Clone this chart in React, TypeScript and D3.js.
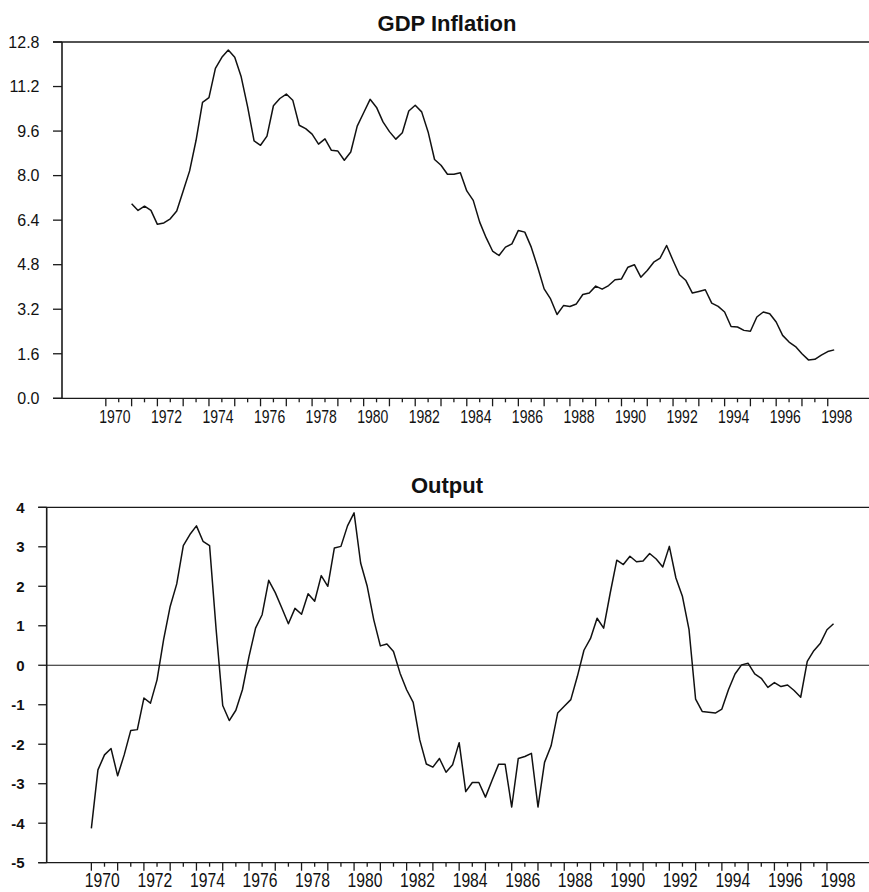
import * as d3 from "d3";

// quarterly series
const INFLATION_START = 1971; // 1971Q1
const inflation = [
  6.99, 6.75, 6.9, 6.75,
  6.25, 6.3, 6.45, 6.73,
  7.45, 8.17, 9.27, 10.63,
  10.8, 11.85, 12.25, 12.51,
  12.25, 11.55, 10.47, 9.25,
  9.09, 9.42, 10.51, 10.77,
  10.93, 10.71, 9.81, 9.69,
  9.49, 9.13, 9.32, 8.91,
  8.88, 8.55, 8.85, 9.78,
  10.26, 10.74, 10.45, 9.93,
  9.58, 9.31, 9.54, 10.32,
  10.53, 10.29, 9.57, 8.58,
  8.37, 8.05, 8.05, 8.1,
  7.45, 7.11, 6.33, 5.77,
  5.29, 5.13, 5.43, 5.55,
  6.03, 5.97, 5.43, 4.71,
  3.93, 3.57, 3.01, 3.33,
  3.3, 3.39, 3.73, 3.78,
  4.03, 3.92, 4.05, 4.26,
  4.29, 4.71, 4.8, 4.35,
  4.59, 4.89, 5.04, 5.49,
  4.95, 4.44, 4.23, 3.78,
  3.84, 3.9, 3.42, 3.3,
  3.1, 2.58, 2.56, 2.44,
  2.41, 2.92, 3.1, 3.04,
  2.74, 2.26, 2.02, 1.86,
  1.6, 1.38, 1.4, 1.55,
  1.68, 1.74,
];

const OUTPUT_START = 1970; // 1970Q1
const output = [
  -4.13, -2.65, -2.27, -2.11,
  -2.8, -2.27, -1.65, -1.63,
  -0.83, -0.96, -0.37, 0.65,
  1.49, 2.06, 3.03, 3.31,
  3.53, 3.14, 3.03, 0.9,
  -1.02, -1.4, -1.14, -0.62,
  0.22, 0.94, 1.28, 2.15,
  1.84, 1.45, 1.05, 1.44,
  1.29, 1.81, 1.62, 2.27,
  2.0, 2.97, 3.01, 3.53,
  3.86, 2.59, 2.0, 1.15,
  0.49, 0.54, 0.35, -0.2,
  -0.62, -0.94, -1.89, -2.5,
  -2.58, -2.36, -2.71, -2.52,
  -1.96, -3.2, -2.97, -2.97,
  -3.34, -2.92, -2.51, -2.51,
  -3.59, -2.36, -2.31, -2.23,
  -3.59, -2.46, -2.04, -1.21,
  -1.04, -0.87, -0.28, 0.38,
  0.68, 1.19, 0.94, 1.83,
  2.66, 2.55, 2.76, 2.62,
  2.64, 2.83, 2.69, 2.49,
  3.01, 2.21, 1.74, 0.9,
  -0.86, -1.17, -1.19, -1.21,
  -1.11, -0.62, -0.22, 0.01,
  0.05, -0.22, -0.33, -0.56,
  -0.44, -0.54, -0.5, -0.64,
  -0.81, 0.1, 0.37, 0.56,
  0.9, 1.05,
];

const inflationTicks = [0, 1.6, 3.2, 4.8, 6.4, 8.0, 9.6, 11.2, 12.8];
const outputTicks = [-5, -4, -3, -2, -1, 0, 1, 2, 3, 4];
const yearLabels = d3.range(1970, 1999, 2);
const yearTicks = d3.range(1970, 1998.01, 0.5);

const WIDTH = 869;
const HEIGHT = 892;
const X_DOMAIN: [number, number] = [1968.3, 1999.6];
const FONT = "'Liberation Sans', Arial, sans-serif";

type PanelProps = {
  title: string;
  titleY: number;
  values: number[];
  start: number;
  yDomain: [number, number];
  yTicks: number[];
  fmt: (v: number) => string;
  left: number;
  top: number;
  bottom: number;
  tickLen: number;
  yLabelRight: number;
  yLabelSize: number;
  yLabelWeight: string;
  xLabelSize: number;
  xLabelStretch: number;
  xLabelY: number;
  zeroLine?: boolean;
};

const Panel = (p: PanelProps) => {
  const x = d3.scaleLinear().domain(X_DOMAIN).range([p.left, WIDTH]);
  const y = d3.scaleLinear().domain(p.yDomain).range([p.bottom, p.top]);

  const line = d3
    .line<number>()
    .x((_, i) => x(p.start + i / 4))
    .y((d) => y(d));

  const stroke = "#1a1a1a";

  return (
    <g fontFamily={FONT}>
      <text
        x={447}
        y={p.titleY}
        textAnchor="middle"
        fontSize={22}
        fontWeight="bold"
        fill="#111"
      >
        {p.title}
      </text>

      {/* y ticks and labels */}
      {p.yTicks.map((t) => (
        <g key={t}>
          <line
            x1={p.left - p.tickLen}
            x2={p.left}
            y1={y(t)}
            y2={y(t)}
            stroke={stroke}
            strokeWidth={1.3}
          />
          <text
            x={p.yLabelRight}
            y={y(t) + p.yLabelSize * 0.36}
            textAnchor="end"
            fontSize={p.yLabelSize}
            fontWeight={p.yLabelWeight}
            fill="#111"
          >
            {p.fmt(t)}
          </text>
        </g>
      ))}

      {/* frame: top rule, bottom axis, y axis */}
      <line x1={p.left - p.tickLen} x2={WIDTH} y1={p.top} y2={p.top} stroke={stroke} strokeWidth={1.3} />
      <line x1={p.left - p.tickLen} x2={WIDTH} y1={p.bottom} y2={p.bottom} stroke={stroke} strokeWidth={1.3} />
      <line x1={p.left} x2={p.left} y1={p.top} y2={p.bottom} stroke={stroke} strokeWidth={1.6} />
      {p.zeroLine && (
        <line x1={p.left} x2={WIDTH} y1={y(0)} y2={y(0)} stroke={stroke} strokeWidth={1.2} />
      )}

      {/* x ticks: years tall, half years short */}
      {yearTicks.map((t) => {
        const major = Number.isInteger(t);
        return (
          <line
            key={t}
            x1={x(t)}
            x2={x(t)}
            y1={p.bottom}
            y2={p.bottom + (major ? 8 : 4)}
            stroke={stroke}
            strokeWidth={1.3}
          />
        );
      })}
      {yearLabels.map((yr) => (
        <text
          key={yr}
          transform={`translate(${x(yr) - 6.5},${p.xLabelY}) scale(1,${p.xLabelStretch})`}
          fontSize={p.xLabelSize}
          fill="#111"
        >
          {yr}
        </text>
      ))}

      <path d={line(p.values) ?? ""} fill="none" stroke="#111" strokeWidth={1.5} strokeLinejoin="round" />
    </g>
  );
};

export default function App() {
  return (
    <svg
      width={WIDTH}
      height={HEIGHT}
      style={{ position: "absolute", left: 0, top: 0, background: "#fff" }}
    >
      <rect width={WIDTH} height={HEIGHT} fill="#fff" />
      <Panel
        title="GDP Inflation"
        titleY={30.5}
        values={inflation}
        start={INFLATION_START}
        yDomain={[0, 12.8]}
        yTicks={inflationTicks}
        fmt={(v) => v.toFixed(1)}
        left={62}
        top={42}
        bottom={398.3}
        tickLen={9}
        yLabelRight={39.5}
        yLabelSize={16}
        yLabelWeight="normal"
        xLabelSize={14}
        xLabelStretch={1.27}
        xLabelY={423}
      />
      <Panel
        title="Output"
        titleY={493.3}
        values={output}
        start={OUTPUT_START}
        yDomain={[-5, 4]}
        yTicks={outputTicks}
        fmt={(v) => String(v)}
        left={46.7}
        top={507.3}
        bottom={862.7}
        tickLen={8.5}
        yLabelRight={24.5}
        yLabelSize={15}
        yLabelWeight="bold"
        xLabelSize={15.7}
        xLabelStretch={1.25}
        xLabelY={887}
        zeroLine
      />
    </svg>
  );
}
